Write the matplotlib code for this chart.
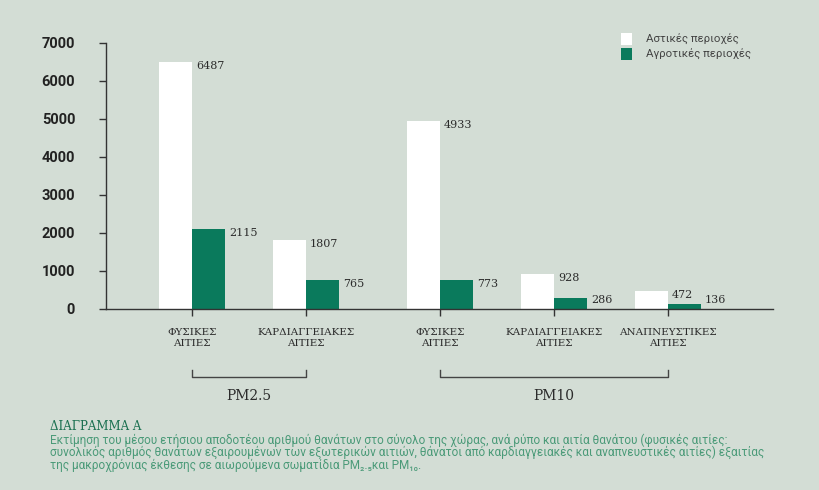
import matplotlib
matplotlib.use("Agg")
import matplotlib.pyplot as plt
import numpy as np

# ---- data ----
categories = ["ΦΥΣΙΚΕΣ\nΑΙΤΙΕΣ", "ΚΑΡΔΙΑΓΓΕΙΑΚΕΣ\nΑΙΤΙΕΣ",
              "ΦΥΣΙΚΕΣ\nΑΙΤΙΕΣ", "ΚΑΡΔΙΑΓΓΕΙΑΚΕΣ\nΑΙΤΙΕΣ", "ΑΝΑΠΝΕΥΣΤΙΚΕΣ\nΑΙΤΙΕΣ"]
groups = ["PM2.5", "PM2.5", "PM10", "PM10", "PM10"]
group_names = ["PM2.5", "PM10"]
urban = [6487, 1807, 4933, 928, 472]
rural = [2115, 765, 773, 286, 136]
series_names = ["Αστικές περιοχές", "Αγροτικές περιοχές"]
yticks = [0, 1000, 2000, 3000, 4000, 5000, 6000, 7000]

caption_title = "ΔΙΑΓΡΑΜΜΑ Α"
caption_lines = [
    "Εκτίμηση του μέσου ετήσιου αποδοτέου αριθμού θανάτων στο σύνολο της χώρας, ανά ρύπο και αιτία θανάτου (φυσικές αιτίες:",
    "συνολικός αριθμός θανάτων εξαιρουμένων των εξωτερικών αιτιών, θάνατοι από καρδιαγγειακές και αναπνευστικές αιτίες) εξαιτίας",
    "της μακροχρόνιας έκθεσης σε αιωρούμενα σωματίδια PM₂.₅και PM₁₀.",
]

# ---- style ----
BG = "#d3ddd5"
GREEN = "#0a7a5c"
DARK = "#2b2b2b"
plt.rcParams['font.family'] = ['DejaVu Sans']

fig = plt.figure(figsize=(8.2, 4.9), dpi=100, facecolor=BG)
ax = fig.add_axes([0.129, 0.3694, 0.814, 0.5435])
ax.set_facecolor(BG)

# positions: gap between pollutant groups
gidx = np.array([group_names.index(g) for g in groups])
x = np.arange(len(categories)) + gidx * 0.175
w = 0.29

ax.bar(x - w / 2, urban, w, color="white", label=series_names[0], zorder=2)
ax.bar(x + w / 2, rural, w, color=GREEN, label=series_names[1], zorder=2)

for xi, u, r in zip(x, urban, rural):
    ax.annotate(str(u), (xi, max(u, 340)), xytext=(3, -3), textcoords="offset points",
                ha="left", va="center", fontsize=8, family="DejaVu Serif", color=DARK)
    ax.annotate(str(r), (xi + w, max(r, 340)), xytext=(3, -3), textcoords="offset points",
                ha="left", va="center", fontsize=8, family="DejaVu Serif", color=DARK)

ax.set_ylim(0, 7000)
ax.set_xlim(-0.754, 5.1)
ax.set_yticks(yticks)
ax.set_yticklabels([str(t) for t in yticks], fontsize=10.5, fontweight="bold",
                   family="Roboto", color="#222222")
ax.tick_params(axis="y", length=5, width=1, color="#333333", pad=17)
ax.set_xticks(x)
ax.set_xticklabels(categories, fontsize=7.5, family="DejaVu Serif", color=DARK, linespacing=1.25)
ax.tick_params(axis="x", length=5, width=1, color="#333333", pad=9)
for s in ["top", "right"]:
    ax.spines[s].set_visible(False)
for s in ["left", "bottom"]:
    ax.spines[s].set_color("#333333")
    ax.spines[s].set_linewidth(1)

# group brackets
trans = ax.get_xaxis_transform()
for gi, g in enumerate(group_names):
    xs = x[gidx == gi]
    x0, x1 = xs.min(), xs.max()
    yb = -0.255
    ax.plot([x0, x0, x1, x1], [yb + 0.025, yb, yb, yb + 0.025], transform=trans,
            color="#444444", lw=1, clip_on=False)
    ax.text((x0 + x1) / 2, yb - 0.07, g, transform=trans, ha="center", va="center",
            fontsize=10, family="DejaVu Serif", color=DARK)

# legend
leg = ax.legend(loc="upper left", bbox_to_anchor=(0.757, 1.075), frameon=False,
                handlelength=0.95, handleheight=1.3, handletextpad=1.25,
                labelspacing=0.2, prop={"family": "Roboto", "size": 8.2})
for t in leg.get_texts():
    t.set_color("#444444")

# caption
fig.text(0.061, 1 - 426 / 490, caption_title, fontsize=8.5, color="#1a7050",
         ha="left", va="center", family="DejaVu Serif")
for i, line in enumerate(caption_lines):
    fig.text(0.061, 1 - (440 + 12.6 * i) / 490, line, fontsize=8.45, color="#4a9a78",
             ha="left", va="center", family=["Roboto", "DejaVu Sans"])

fig.savefig("out.png", dpi=100, facecolor=BG)
